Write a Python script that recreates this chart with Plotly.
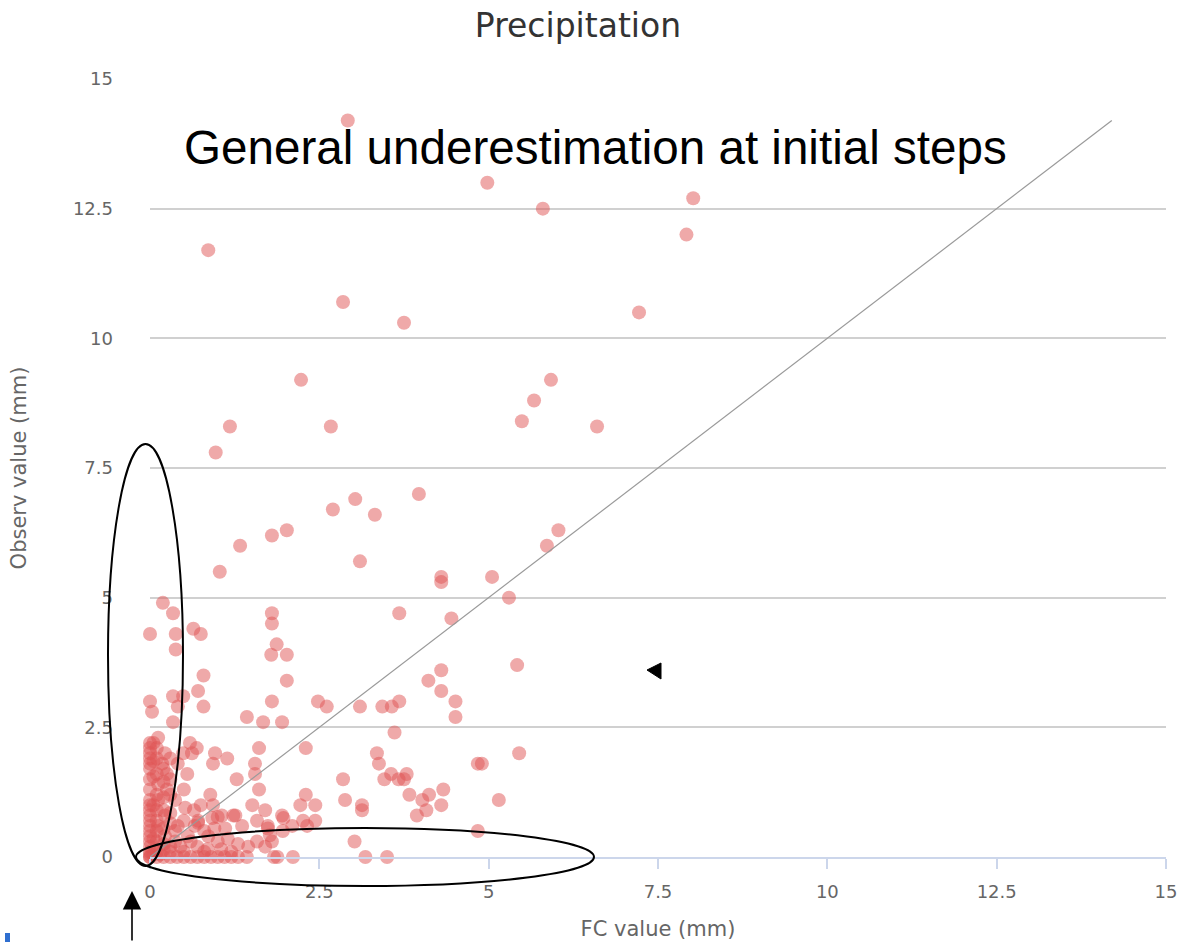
import plotly.graph_objects as go

# Forecast vs observed precipitation (mm)
fc_mm = [
    2.92, 4.98, 8.02, 5.80, 7.92, 0.86, 2.85, 7.22, 3.75, 2.23, 5.92, 5.67, 5.49, 6.60,
    1.18, 2.67, 0.97, 3.97, 3.03, 2.70, 3.32, 2.02, 1.80, 1.33, 6.03, 5.86, 1.03, 3.10,
    4.30, 4.30, 5.05, 5.30, 0.19, 0.34, 0.00, 0.38, 0.64, 0.75, 0.38, 1.80, 1.80, 1.87,
    1.79, 2.02, 3.68, 4.45, 0.79, 2.02, 5.42, 4.30, 4.11, 4.30, 4.51, 0.00, 0.71, 0.34,
    0.49, 1.80, 2.48, 3.68, 0.03, 0.41, 0.79, 2.61, 3.10, 3.43, 3.57, 4.51, 1.43, 1.67,
    1.95, 0.34, 3.61, 0.12, 0.00, 0.00, 0.05, 0.00, 0.00, 0.22, 0.59, 0.69, 0.62, 0.49,
    0.96, 1.14, 1.61, 2.30, 3.35, 5.45, 0.00, 0.00, 0.18, 0.41, 0.93, 1.55, 1.55, 3.38,
    4.84, 4.90, 0.00, 0.25, 0.12, 1.28, 2.85, 3.46, 3.56, 3.67, 3.79, 3.75, 0.00, 0.25,
    0.89, 1.61, 2.30, 0.00, 0.12, 0.37, 0.93, 1.51, 2.22, 2.44, 2.88, 3.13, 3.83, 4.12,
    4.02, 4.33, 4.30, 5.15, 0.00, 0.52, 0.00, 3.13, 4.08, 3.94, 1.70, 1.26, 1.95, 1.97,
    2.26, 2.44, 1.58, 0.00, 0.00, 0.22, 0.71, 0.92, 1.06, 1.23, 1.36, 1.74, 1.74, 1.96,
    2.10, 2.32, 0.00, 0.00, 0.12, 0.41, 0.66, 1.11, 4.84, 0.37, 1.00, 0.71, 1.77, 0.00,
    0.22, 0.56, 0.86, 1.00, 0.37, 0.00, 0.00, 0.00, 1.80, 1.58, 1.45, 1.70, 3.02,
    0.00, 0.10, 0.20, 0.30, 0.40, 0.50, 0.60, 0.70, 0.80, 0.90, 1.00, 1.10, 1.20, 1.30,
    1.43, 1.83, 1.88, 2.11, 3.18, 3.50, 0.10, 0.30, 0.50, 0.80, 1.20, 0.00, 0.20, 0.00,
    0.05, 0.15,
    0.10, 0.10, 0.10, 0.10, 0.10, 0.10, 0.10, 0.10, 0.20, 0.20, 0.20, 0.20, 0.20, 0.20,
    0.30, 0.30, 0.30, 0.30, 0.30, 0.30, 0.45, 0.50, 0.50, 0.55, 0.60, 0.65, 0.70, 0.75,
    0.80, 0.85, 0.95, 1.05, 1.15, 1.30, 0.05, 0.05, 0.05, 0.05,
]
obs_mm = [
    14.2, 13.0, 12.7, 12.5, 12.0, 11.7, 10.7, 10.5, 10.3, 9.2, 9.2, 8.8, 8.4, 8.3,
    8.3, 8.3, 7.8, 7.0, 6.9, 6.7, 6.6, 6.3, 6.2, 6.0, 6.3, 6.0, 5.5, 5.7,
    5.4, 5.3, 5.4, 5.0, 4.9, 4.7, 4.3, 4.3, 4.4, 4.3, 4.0, 4.7, 4.5, 4.1,
    3.9, 3.9, 4.7, 4.6, 3.5, 3.4, 3.7, 3.6, 3.4, 3.2, 3.0, 3.0, 3.2, 3.1,
    3.1, 3.0, 3.0, 3.0, 2.8, 2.9, 2.9, 2.9, 2.9, 2.9, 2.9, 2.7, 2.7, 2.6,
    2.6, 2.6, 2.4, 2.3, 2.2, 2.1, 2.2, 2.0, 1.9, 2.0, 2.2, 2.1, 2.0, 2.0,
    2.0, 1.9, 2.1, 2.1, 2.0, 2.0, 1.8, 1.7, 1.8, 1.8, 1.8, 1.8, 1.6, 1.8,
    1.8, 1.8, 1.5, 1.6, 1.4, 1.5, 1.5, 1.5, 1.6, 1.5, 1.6, 1.5, 1.3, 1.3,
    1.2, 1.3, 1.2, 1.1, 1.1, 1.1, 1.0, 1.0, 1.0, 1.0, 1.1, 1.0, 1.2, 1.2,
    1.1, 1.3, 1.0, 1.1, 1.0, 0.95, 0.9, 0.9, 0.9, 0.8, 0.9, 0.8, 0.8, 0.75,
    0.7, 0.7, 0.7, 0.7, 0.8, 0.8, 0.7, 0.75, 0.8, 0.8, 0.6, 0.6, 0.55, 0.5,
    0.6, 0.6, 0.6, 0.5, 0.6, 0.6, 0.6, 0.55, 0.5, 0.5, 0.77, 0.66, 0.42, 0.4,
    0.4, 0.4, 0.4, 0.3, 0.3, 0.3, 0.2, 0.1, 0.3, 0.3, 0.2, 0.2, 0.3,
    0.0, 0.0, 0.0, 0.0, 0.0, 0.0, 0.0, 0.0, 0.0, 0.0, 0.0, 0.0, 0.0, 0.0,
    0.0, 0.0, 0.0, 0.0, 0.0, 0.0, 0.1, 0.1, 0.1, 0.1, 0.1, 0.05, 0.15, 0.0,
    0.05, 0.05,
    0.3, 0.5, 0.7, 0.9, 1.2, 1.6, 1.9, 2.1, 0.25, 0.55, 0.9, 1.15, 1.45, 1.7,
    0.2, 0.65, 0.85, 1.2, 1.5, 1.9, 0.2, 0.7, 1.3, 1.6, 0.3, 0.9, 0.2, 1.0,
    0.5, 0.15, 0.55, 0.15, 0.35, 0.25, 0.35, 1.0, 1.55, 1.85,
]

# Perfect-agreement reference line
diag_x = [0, 14.2]
diag_y = [0, 14.2]

x_range = [0, 15]
y_range = [0, 15]

# Plot-area geometry in pixels (used to place the hand-drawn callouts)
W, H = 1182, 942
PL, PR, PT, PB = 150, 1166, 79, 857


def px(xp):
    return (xp - PL) / (PR - PL)


def py(yp):
    return (PB - yp) / (PB - PT)


fig = go.Figure()

fig.add_trace(go.Scatter(
    x=fc_mm, y=obs_mm, mode="markers",
    marker=dict(color="rgba(223,83,83,0.5)", size=14, line=dict(width=0)),
    cliponaxis=False, showlegend=False, hoverinfo="x+y",
))

fig.add_trace(go.Scatter(
    x=diag_x, y=diag_y, mode="lines",
    line=dict(color="#9a9a9a", width=1.2),
    showlegend=False, hoverinfo="skip",
))

font_family = "DejaVu Sans, Verdana, sans-serif"

shapes = [
    # vertical ellipse around the x≈0 column
    dict(type="circle", xref="paper", yref="paper",
         x0=px(108), x1=px(183), y0=py(866), y1=py(444),
         line=dict(color="black", width=2), fillcolor="rgba(0,0,0,0)"),
    # horizontal ellipse around the y≈0 row
    dict(type="circle", xref="paper", yref="paper",
         x0=px(136), x1=px(594), y0=py(886), y1=py(828),
         line=dict(color="black", width=2), fillcolor="rgba(0,0,0,0)"),
    # small left-pointing marker
    dict(type="path", xref="paper", yref="paper",
         path=f"M {px(647)},{py(670)} L {px(661)},{py(663)} L {px(661)},{py(679)} Z",
         fillcolor="black", line=dict(color="black", width=1)),
    # blue corner mark
    dict(type="rect", xref="paper", yref="paper",
         x0=px(5), x1=px(10), y0=py(942), y1=py(933),
         fillcolor="#2f6fd0", line=dict(width=0)),
]

annotations = [
    dict(text="General underestimation at initial steps",
         xref="paper", yref="paper", x=px(182), y=py(147),
         xanchor="left", yanchor="middle", showarrow=False,
         font=dict(family="Liberation Sans, Arial, sans-serif", size=47.6, color="black")),
    dict(text="", xref="paper", yref="paper", x=px(132), y=py(891),
         ax=0, ay=52, showarrow=True, arrowhead=2, arrowsize=2.3,
         arrowwidth=1.6, arrowcolor="black", standoff=0),
]

fig.update_layout(
    width=W, height=H,
    margin=dict(l=PL, r=W - PR, t=PT, b=H - PB, pad=0, autoexpand=False),
    paper_bgcolor="white", plot_bgcolor="white",
    title=dict(text="Precipitation", x=578 / W, xref="container", xanchor="center",
               y=1 - 25 / H, yref="container", yanchor="middle",
               font=dict(family=font_family, size=33, color="#333333")),
    xaxis=dict(
        range=x_range, dtick=2.5, tick0=0, automargin=False,
        showgrid=False, zeroline=False,
        showline=True, linecolor="#ccd6eb", linewidth=1.5,
        ticks="outside", ticklen=10, tickwidth=1.5, tickcolor="#ccd6eb",
        tickfont=dict(family=font_family, size=18, color="#666666"),
        ticklabelstandoff=8,
        title=dict(text="FC value (mm)", standoff=20,
                   font=dict(family=font_family, size=21, color="#666666")),
    ),
    yaxis=dict(
        range=y_range, dtick=2.5, tick0=0, automargin=False,
        showgrid=True, gridcolor="#d0d0d0", gridwidth=1.5,
        zeroline=False, showline=False, ticks="",
        tickfont=dict(family=font_family, size=18, color="#666666"),
        ticklabelstandoff=36,
        title=dict(text="Observ value (mm)", standoff=40,
                   font=dict(family=font_family, size=21, color="#666666")),
    ),
    shapes=shapes,
    annotations=annotations,
    showlegend=False,
)

fig.write_html("out.html")
